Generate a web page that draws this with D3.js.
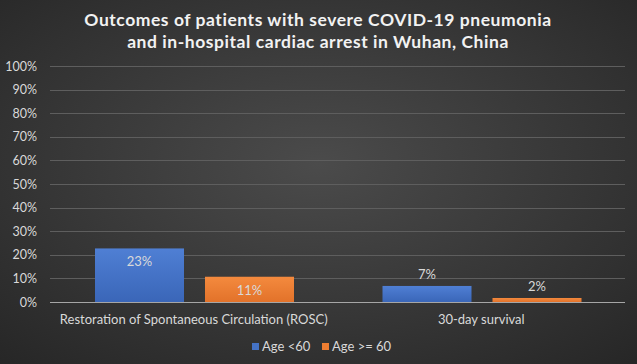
<!DOCTYPE html>
<html><head><meta charset="utf-8">
<script src="https://cdn.jsdelivr.net/npm/d3@7"></script>
<style>body{margin:0;background:#333}svg{display:block}</style>
</head><body>
<svg id="c" width="637" height="364"></svg>
<script>
const categories = ["Restoration of Spontaneous Circulation (ROSC)", "30-day survival"];
const seriesNames = ["Age <60", "Age >= 60"];
const under60 = [0.227, 0.068];
const over60 = [0.107, 0.017];
const yTicks = [0,0.1,0.2,0.3,0.4,0.5,0.6,0.7,0.8,0.9,1.0];
const titleLines = ["Outcomes of patients with severe COVID-19 pneumonia", "and in-hospital cardiac arrest in Wuhan, China"];

const W = 637, H = 364;
const svg = d3.select("#c");
const defs = svg.append("defs");
const bg = defs.append("radialGradient").attr("id","bg").attr("cx","50%").attr("cy","45%").attr("r","75%");
bg.append("stop").attr("offset","0%").attr("stop-color","#4b4b4b");
bg.append("stop").attr("offset","100%").attr("stop-color","#262626");
const colors = ["#4472C4", "#ED7D31"];
const gradIds = ["gb","go"];
[["#4f7fd4","#3a66b8"],["#f48a3e","#e2722a"]].forEach((c,i)=>{
  const g = defs.append("linearGradient").attr("id",gradIds[i]).attr("x1","0").attr("y1","0").attr("x2","0").attr("y2","1");
  g.append("stop").attr("offset","0%").attr("stop-color",c[0]);
  g.append("stop").attr("offset","100%").attr("stop-color",c[1]);
});
svg.append("rect").attr("width",W).attr("height",H).attr("fill","url(#bg)");

const font = "Lato, 'Open Sans', sans-serif";
svg.selectAll("text.title").data(titleLines).join("text")
  .attr("class","title").attr("x",318).attr("y",(d,i)=>26+i*21.5)
  .attr("text-anchor","middle").attr("fill","#f2f2f2")
  .attr("font-family",font).attr("font-weight","bold").attr("font-size",17.5)
  .attr("letter-spacing","0.55px")
  .text(d=>d);

const m = {l:50, r:625, t:66, b:302};
const y = d3.scaleLinear().domain([0,1]).range([m.b, m.t]);
const x0 = d3.scaleBand().domain(categories).range([m.l, m.r]).paddingInner(0).paddingOuter(0);
const x1 = d3.scaleBand().domain(seriesNames).range([45, x0.bandwidth()-(x0.bandwidth()-45-89*2-21)]).paddingInner(21/110);

// gridlines
svg.append("g").selectAll("line").data(yTicks.slice(1)).join("line")
  .attr("x1",m.l).attr("x2",m.r).attr("y1",d=>Math.round(y(d))+0.5).attr("y2",d=>Math.round(y(d))+0.5)
  .attr("stroke","#5e5e5e").attr("stroke-width",1);

const yAxis = svg.append("g").attr("transform",`translate(${m.l},0)`)
  .call(d3.axisLeft(y).tickValues(yTicks).tickFormat(d3.format(".0%")).tickSize(0).tickPadding(13));
yAxis.select(".domain").remove();
yAxis.selectAll("text").attr("fill","#d9d9d9").attr("font-family",font).attr("font-size",12.5);

const data = [under60, over60];
const g = svg.append("g");
categories.forEach((c,ci)=>{
  seriesNames.forEach((s,si)=>{
    const v = data[si][ci];
    const bx = x0(c)+x1(s), bw = x1.bandwidth();
    g.append("rect").attr("x",bx).attr("y",y(v)).attr("width",bw).attr("height",y(0)-y(v))
      .attr("fill",`url(#${gradIds[si]})`);
    const inside = (y(0)-y(v)) > 24;
    g.append("text").attr("x",bx+bw/2).attr("y",inside ? y(v)+18 : y(v)-7)
      .attr("text-anchor","middle").attr("fill","#d9d9d9")
      .attr("font-family",font).attr("font-size",13)
      .text(d3.format(".0%")(v));
  });
});

// baseline
svg.append("line").attr("x1",m.l).attr("x2",m.r).attr("y1",m.b+0.5).attr("y2",m.b+0.5)
  .attr("stroke","#a6a6a6").attr("stroke-width",1);

const xAxis = svg.append("g").attr("transform",`translate(0,${m.b})`)
  .call(d3.axisBottom(x0).tickSize(0).tickPadding(13));
xAxis.select(".domain").remove();
xAxis.selectAll("text").attr("fill","#d9d9d9").attr("font-family",font).attr("font-size",13);

// legend
const leg = svg.append("g");
const legItems = [{n:seriesNames[0],x:252},{n:seriesNames[1],x:322}];
legItems.forEach((d,i)=>{
  leg.append("rect").attr("x",d.x).attr("y",343).attr("width",7).attr("height",7).attr("fill",colors[i]);
  leg.append("text").attr("x",d.x+10).attr("y",351).attr("fill","#d9d9d9")
    .attr("font-family",font).attr("font-size",13).text(d.n);
});
</script>
</body></html>
